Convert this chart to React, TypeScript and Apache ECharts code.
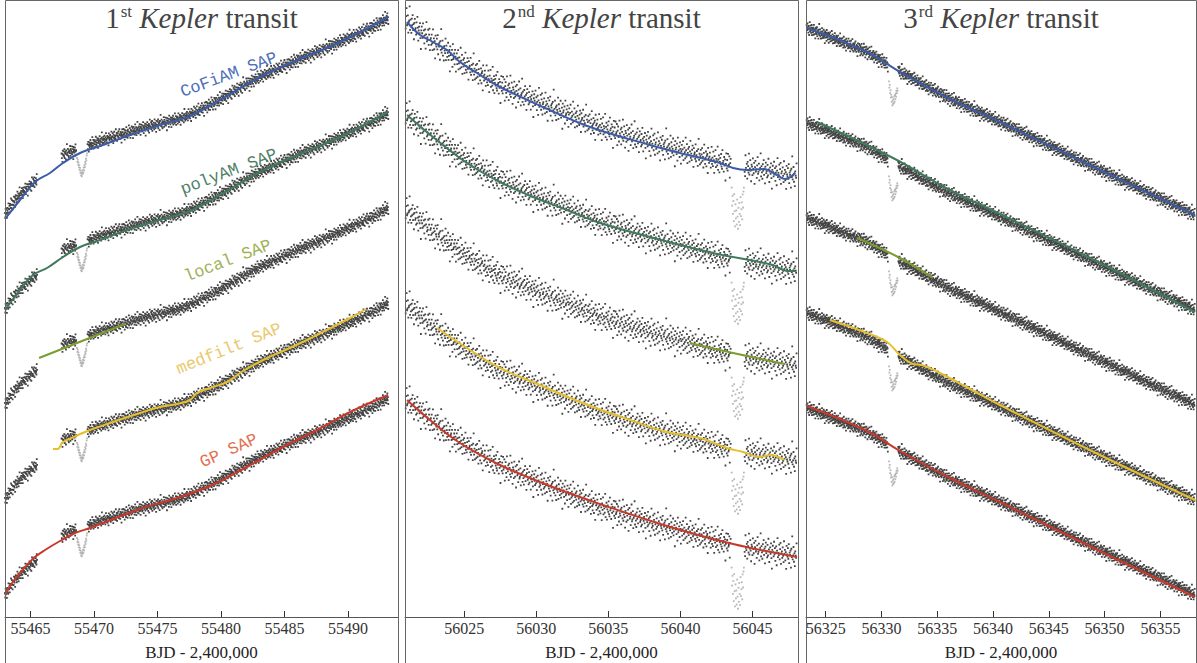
import React, { useEffect, useRef } from "react";
import * as echarts from "echarts";

// ---------- tick labels ----------
const TICKS_1 = [55465, 55470, 55475, 55480, 55485, 55490];
const TICKS_2 = [56025, 56030, 56035, 56040, 56045];
const TICKS_3 = [56325, 56330, 56335, 56340, 56345, 56350, 56355];

const METHODS = ["CoFiAM SAP", "polyAM SAP", "local SAP", "medfilt SAP", "GP SAP"];
const STRIP_OFFSETS = [0, -95, -190, -285, -380];
const X_NAME = "BJD - 2,400,000";

// hand-typed scatter residuals (flux units, about +-9)
const NOISE = [
  2, -3, 5, -1, 0, 4, -6, 1, 3, -2, -4, 6, 0, -1, 2, -5, 3, 1, -2, 7,
  -3, 0, 4, -1, -6, 2, 1, -3, 5, 0, -2, 3, -7, 1, 4, -1, 0, -4, 2, 6,
  -2, -1, 3, -5, 0, 1, 8, -3, 2, -1, -4, 3, 0, 5, -2, 1, -6, 2, 4, -1,
  0, -3, 3, -2, 6, 1, -5, 0, 2, -1, 4, -3, -8, 1, 3, 0, -2, 5, -1, 2,
  -4, 0, 3, -6, 1, 7, -2, 0, -1, 4, -3, 2, 5, -5, 0, 1, -2, 3, -1, -4,
  6, 0, 2, -3, 1, -7, 4, 0, -1, 3, -2, 5, -4, 1, 0, 2, -6, 3, -1, 9,
  -2, 0, 4, -3, 1, -5, 2, 0, -1, 6, -4, 3, 1, -2, 0, 5, -3, -1, 2, -8,
  4, 0, 1, -2, 3, -5, 6, -1, 0, 2, -3, 4, 1, -6, 0, 3, -2, 1, 5, -4,
  -1, 2, 0, -3, 7, 1, -2, 4, -5, 0, 2, -1, 3, -4, 1, 6, -2, 0, -3, 2,
  4, -1, -6, 3, 0, 1, -2, 5, -3, 0, 2, -1, -5, 3, 8, -2, 1, -4, 0, 3,
  -3, 1, 4, -2, 0, -5, 2, 6, -1, -3, 0, 3, -4, 1, 2, -7, 5, 0, -2, 1,
  3, -1, -4, 0, 6, -2, 1, -3, 4, 0, -6, 2, -1, 5, -3, 1, 0, -2, 7, -4,
  1, 3, -5, 0, 2, -1, 4, -2, -3, 6, 0, 1, -4, 3, -1, 2, -8, 0, 5, -2,
];

// ---------- transit 1 ----------
const RAW_1 = [[55463.00, 402], [55463.39, 410], [55463.79, 417], [55464.18, 422], [55464.57, 427], [55464.97, 431], [55465.52, 437], [55467.49, 462], [55468.12, 465], [55468.67, 467], [55469.54, 471], [55470.48, 476], [55472.06, 482], [55473.63, 488], [55475.20, 493], [55476.78, 498], [55478.35, 507], [55479.93, 517], [55481.50, 529], [55483.08, 540], [55484.65, 549], [55486.23, 558], [55487.80, 566], [55489.38, 575], [55490.95, 584], [55492.13, 591], [55493.16, 599]];
const SEG_1 = [[55463.00, 55465.55], [55467.45, 55468.62], [55469.50, 55493.20]];
const TRANSIT_1 = [55468.67, 55469.46];
const DEPTH_1 = [8, 12, 10, 15, 13, 18, 16, 21, 19, 24, 22, 27, 25, 28, 24, 26, 22, 25, 20, 23, 18, 20, 15, 17, 12, 14, 9, 7];
const COFIAM_1 = [[55463.00, 398], [55464.18, 417], [55465.36, 435], [55466.54, 444], [55467.57, 454], [55468.91, 464], [55470.48, 471], [55473.08, 483], [55476.00, 495], [55477.57, 501], [55479.93, 517], [55483.08, 540], [55486.23, 558], [55489.38, 575], [55493.16, 600]];
const POLYAM_1 = [[55463.00, 402], [55464.18, 422], [55465.20, 437], [55466.31, 444], [55467.57, 455], [55468.91, 465], [55470.48, 472], [55473.08, 484], [55476.00, 495], [55477.57, 501], [55479.93, 517], [55483.08, 540], [55486.23, 558], [55489.38, 575], [55493.16, 600]];
const LOCAL_1 = [[55465.68, 449], [55472.45, 483]];
const MEDFILT_1 = [[55466.78, 453], [55467.17, 453], [55467.49, 459], [55467.88, 462], [55468.75, 467], [55469.69, 472], [55471.27, 479], [55473.63, 489], [55475.20, 495], [55476.54, 498], [55477.57, 502], [55478.12, 509], [55479.14, 514], [55480.48, 520], [55481.74, 531], [55483.63, 544], [55484.89, 551], [55486.78, 562], [55487.57, 567], [55490.17, 584], [55491.43, 593]];
const GP_1 = [[55463.00, 402], [55463.55, 414], [55464.18, 424], [55464.73, 432], [55465.36, 440], [55466.15, 447], [55467.33, 456], [55468.51, 464], [55469.69, 469], [55473.63, 488], [55476.54, 499], [55479.14, 511], [55481.74, 528], [55484.89, 550], [55487.57, 567], [55490.17, 585], [55493.16, 602]];

// ---------- transit 2 ----------
const RAW_2 = [[56020.95, 597], [56022.84, 575], [56024.71, 555], [56027.49, 531], [56030.26, 514], [56034.42, 490], [56037.89, 474], [56041.36, 461], [56043.65, 451], [56045.52, 447], [56048.10, 441]];
const SEG_2 = [[56020.95, 56043.50], [56044.45, 56048.05]];
const TRANSIT_2 = [56043.55, 56044.40];
const DEPTH_2 = [22, 40, 30, 48, 35, 55, 28, 45, 60, 38, 52, 44, 58, 33, 50, 62, 41, 55, 36, 47, 58, 30, 49, 42, 35, 52, 27, 40, 24, 20];
const COFIAM_2 = [[56021.04, 595], [56021.94, 582], [56022.84, 575], [56023.81, 567], [56024.71, 555], [56025.89, 544], [56027.49, 530], [56030.47, 510], [56033.73, 490], [56037.89, 472], [56039.97, 464], [56042.74, 454], [56043.65, 449], [56044.62, 447], [56045.73, 448], [56046.70, 442], [56047.25, 438], [56047.95, 444]];
const POLYAM_2 = [[56021.04, 597], [56022.84, 575], [56025.20, 549], [56027.49, 530], [56029.78, 515], [56032.13, 502], [56034.21, 490], [56037.89, 475], [56042.26, 459], [56046.42, 447], [56047.39, 441], [56047.95, 441]];
const LOCAL_2 = [[56040.66, 464], [56043.65, 454], [56047.25, 443]];
const MEDFILT_2 = [[56023.12, 574], [56025.41, 552], [56027.49, 534], [56030.26, 517], [56033.04, 500], [56036.71, 481], [56039.07, 470], [56041.36, 464], [56043.23, 454], [56044.34, 450], [56045.52, 445], [56046.21, 447], [56047.25, 442]];
const GP_2 = [[56021.04, 597], [56022.63, 577], [56024.71, 554], [56027.49, 532], [56030.96, 511], [56034.42, 493], [56039.07, 471], [56043.65, 453], [56048.08, 440]];

// ---------- transit 3 ----------
const RAW_3 = [[56323.30, 589], [56328.71, 565], [56331.66, 545], [56336.14, 518], [56340.62, 495], [56349.58, 447], [56358.10, 402]];
const SEG_3 = [[56323.30, 56330.60], [56331.50, 56358.10]];
const TRANSIT_3 = [56330.68, 56331.45];
const DEPTH_3 = [16, 22, 19, 27, 24, 31, 28, 35, 30, 38, 33, 36, 31, 35, 28, 33, 26, 30, 24, 27, 21, 23, 18, 20];
const COFIAM_3 = [[56323.33, 589], [56328.71, 565], [56331.66, 545], [56336.14, 518], [56340.62, 495], [56349.58, 447], [56358.10, 402]];
const POLYAM_3 = [[56324.23, 590], [56331.04, 554], [56336.14, 522], [56340.62, 498], [56349.58, 449], [56358.10, 400]];
const LOCAL_3 = [[56327.81, 569], [56331.66, 549], [56334.62, 529]];
const MEDFILT_3 = [[56325.39, 582], [56328.71, 569], [56330.50, 560], [56331.66, 547], [56332.83, 538], [56333.63, 537], [56335.25, 529], [56337.94, 513], [56340.62, 497], [56349.58, 447], [56358.10, 402]];
const GP_3 = [[56323.33, 591], [56328.71, 566], [56331.66, 546], [56336.14, 519], [56340.62, 495], [56349.58, 446], [56358.10, 400]];

// ---------- styling ----------
const LINE_COLORS = ["#3c5ca8", "#3f7a5c", "#7b9c2e", "#e6bf2e", "#c9392b"];
const LABEL_COLORS = ["#4c70b8", "#4f8069", "#9cb255", "#e9c96c", "#e2704f"];
const SERIF = "Liberation Serif";
const MONO = "Liberation Mono";

const PANELS = [
  { left: 5, width: 393, xMin: 55463.0, xMax: 55493.94, ticks: TICKS_1, raw: RAW_1, seg: SEG_1, transit: TRANSIT_1, depth: DEPTH_1, amp: 1.0, cad: 0.025, models: [COFIAM_1, POLYAM_1, LOCAL_1, MEDFILT_1, GP_1], ord: ["1", "st"] },
  { left: 405, width: 393, xMin: 56020.9, xMax: 56048.15, ticks: TICKS_2, raw: RAW_2, seg: SEG_2, transit: TRANSIT_2, depth: DEPTH_2, amp: 2.1, cad: 0.03, models: [COFIAM_2, POLYAM_2, LOCAL_2, MEDFILT_2, GP_2], ord: ["2", "nd"] },
  { left: 806, width: 390, xMin: 56323.24, xMax: 56358.19, ticks: TICKS_3, raw: RAW_3, seg: SEG_3, transit: TRANSIT_3, depth: DEPTH_3, amp: 1.0, cad: 0.025, models: [COFIAM_3, POLYAM_3, LOCAL_3, MEDFILT_3, GP_3], ord: ["3", "rd"] },
];

const LABEL_POS = [
  { x: 229, y: 75, r: 20.5 },
  { x: 229, y: 172, r: 21 },
  { x: 228, y: 261, r: 21 },
  { x: 229, y: 349, r: 22 },
  { x: 229, y: 451, r: 24 },
];

function interp(knots: number[][], t: number): number {
  if (t <= knots[0][0]) return knots[0][1];
  for (let i = 1; i < knots.length; i++) {
    if (t <= knots[i][0]) {
      const [t0, f0] = knots[i - 1];
      const [t1, f1] = knots[i];
      return f0 + ((f1 - f0) * (t - t0)) / (t1 - t0);
    }
  }
  return knots[knots.length - 1][1];
}

function buildOption() {
  const grid: any[] = [];
  const xAxis: any[] = [];
  const yAxis: any[] = [];
  const series: any[] = [];
  const graphic: any[] = [];

  PANELS.forEach((p, pi) => {
    grid.push({ left: p.left, top: 1, width: p.width, height: 616, containLabel: false });
    xAxis.push({
      type: "value",
      gridIndex: pi,
      min: p.xMin,
      max: p.xMax,
      splitLine: { show: false },
      axisLine: { show: true, onZero: false, lineStyle: { color: "#555", width: 1 } },
      axisTick: { show: true, inside: true, length: 6, customValues: p.ticks, lineStyle: { color: "#333" } },
      axisLabel: { show: false },
    });
    yAxis.push({ type: "value", gridIndex: pi, min: 0, max: 616, show: false });

    graphic.push({
      type: "text",
      x: p.left + p.width / 2,
      y: 3,
      style: {
        text: `{n|${p.ord[0]}}{s|${p.ord[1]}} {i|Kepler} {n|transit}`,
        fontFamily: SERIF,
        fontSize: 29,
        fill: "#444",
        align: "center",
        verticalAlign: "top",
        rich: {
          n: { fontFamily: SERIF, fontSize: 29, fill: "#444", lineHeight: 30 },
          s: { fontFamily: SERIF, fontSize: 17, fill: "#444", verticalAlign: "top", lineHeight: 18, padding: [0, 0, 0, 1] },
          i: { fontFamily: SERIF, fontSize: 29, fill: "#444", fontStyle: "italic", lineHeight: 30 },
        },
      },
      silent: true,
      z: 20,
    });

    // scatter data built from the read trend + hand-typed residuals
    const base: number[][] = [];
    let k = pi * 37;
    p.seg.forEach(([a, b]) => {
      for (let t = a; t <= b; t += p.cad) {
        base.push([t, interp(p.raw, t) + NOISE[k % NOISE.length] * p.amp]);
        k++;
      }
    });
    const gray: number[][] = [];
    const n = p.depth.length;
    p.depth.forEach((d, j) => {
      const t = p.transit[0] + ((p.transit[1] - p.transit[0]) * j) / (n - 1);
      gray.push([t, interp(p.raw, t) - d]);
    });

    const pts: number[][] = [];
    const gpts: number[][] = [];
    STRIP_OFFSETS.forEach((off) => {
      base.forEach(([t, f]) => pts.push([t, f + off]));
      gray.forEach(([t, f]) => gpts.push([t, f + off]));
    });

    series.push({
      type: "scatter",
      xAxisIndex: pi,
      yAxisIndex: pi,
      data: pts,
      symbol: "rect",
      symbolSize: 1.8,
      itemStyle: { color: "#151515" },
      large: true,
      largeThreshold: 500,
      silent: true,
      z: 2,
    });
    series.push({
      type: "scatter",
      xAxisIndex: pi,
      yAxisIndex: pi,
      data: gpts,
      symbol: "rect",
      symbolSize: 1.8,
      itemStyle: { color: "#a8a8a8" },
      silent: true,
      z: 2,
    });

    p.models.forEach((m, mi) => {
      series.push({
        type: "line",
        name: METHODS[mi],
        xAxisIndex: pi,
        yAxisIndex: pi,
        data: m.map(([t, f]) => [t, f + STRIP_OFFSETS[mi]]),
        showSymbol: false,
        smooth: m.length <= 2 ? false : 0.4,
        lineStyle: { color: LINE_COLORS[mi], width: 2 },
        silent: true,
        z: 3,
      });
    });

    graphic.push({
      type: "rect",
      shape: { x: p.left + 0.5, y: 0.5, width: p.width, height: 663 },
      style: { fill: "none", stroke: "#666", lineWidth: 1 },
      silent: true,
      z: 10,
    });
  });

  METHODS.forEach((m, mi) => {
    const lp = LABEL_POS[mi];
    graphic.push({
      type: "text",
      x: lp.x,
      y: lp.y,
      rotation: (lp.r * Math.PI) / 180,
      style: {
        text: m,
        fontFamily: MONO,
        fontSize: 17,
        fill: LABEL_COLORS[mi],
        align: "center",
        verticalAlign: "middle",
      },
      silent: true,
      z: 20,
    });
  });

  return {
    animation: false,
    backgroundColor: "#ffffff",
    textStyle: { fontFamily: SERIF },
    grid,
    xAxis,
    yAxis,
    series,
    graphic,
  };
}

// tick labels and axis titles placed through the axes' own scales
function axisTextGraphics(chart: echarts.ECharts) {
  const out: any[] = [];
  PANELS.forEach((p, pi) => {
    p.ticks.forEach((v) => {
      const px = chart.convertToPixel({ xAxisIndex: pi }, v) as number;
      out.push({
        type: "text",
        x: px,
        y: 628,
        style: { text: String(v), fontFamily: SERIF, fontSize: 16, fill: "#333", align: "center", verticalAlign: "middle" },
        silent: true,
        z: 20,
      });
    });
    out.push({
      type: "text",
      x: p.left + p.width / 2,
      y: 652,
      style: { text: X_NAME, fontFamily: SERIF, fontSize: 17, fill: "#222", align: "center", verticalAlign: "middle" },
      silent: true,
      z: 20,
    });
  });
  return out;
}

export default function App() {
  const ref = useRef<HTMLDivElement>(null);
  useEffect(() => {
    document.body.style.margin = "0";
    const chart = echarts.init(ref.current as HTMLDivElement, null, { renderer: "svg" });
    const option: any = buildOption();
    chart.setOption(option);
    chart.setOption({ graphic: [...option.graphic, ...axisTextGraphics(chart)] });
    return () => chart.dispose();
  }, []);
  return <div ref={ref} style={{ width: 1197, height: 663 }} />;
}
